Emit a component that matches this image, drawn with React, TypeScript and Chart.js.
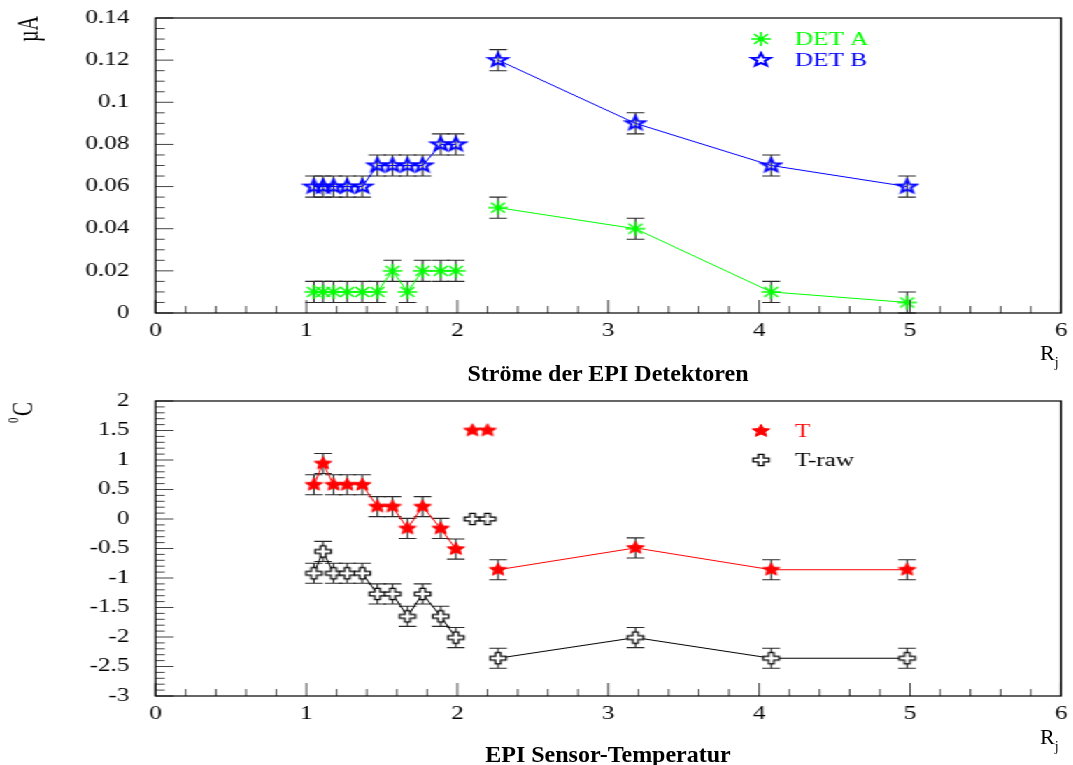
import React, { useEffect, useRef } from 'react';
import { Chart, registerables } from 'chart.js';
Chart.register(...registerables);

// ---------------- data ----------------
const rCluster = [1.05, 1.11, 1.18, 1.27, 1.37, 1.47, 1.57, 1.67, 1.77, 1.89, 1.99];
const rFar = [2.27, 3.18, 4.08, 4.98];
const rExtra = [2.1, 2.2];

const detACluster = [0.01, 0.01, 0.01, 0.01, 0.01, 0.01, 0.02, 0.01, 0.02, 0.02, 0.02];
const detAFar = [0.05, 0.04, 0.01, 0.005];
const detBCluster = [0.06, 0.06, 0.06, 0.06, 0.06, 0.07, 0.07, 0.07, 0.07, 0.08, 0.08];
const detBFar = [0.12, 0.09, 0.07, 0.06];
const detErr = 0.005;

const tCluster = [0.58, 0.94, 0.58, 0.58, 0.58, 0.21, 0.21, -0.16, 0.21, -0.16, -0.51];
const tFar = [-0.86, -0.49, -0.86, -0.86];
const tExtra = [1.5, 1.5];
const tRawCluster = [-0.92, -0.55, -0.92, -0.92, -0.92, -1.27, -1.27, -1.65, -1.27, -1.65, -2.01];
const tRawFar = [-2.36, -2.01, -2.36, -2.36];
const tRawExtra = [0, 0];
const tErr = 0.17;

const xTicks = [0, 1, 2, 3, 4, 5, 6];
const yTicksTop = [0, 0.02, 0.04, 0.06, 0.08, 0.1, 0.12, 0.14];
const yTicksBottom = [-3, -2.5, -2, -1.5, -1, -0.5, 0, 0.5, 1, 1.5, 2];

const titleTop = 'Ströme der EPI Detektoren';
const titleBottom = 'EPI Sensor-Temperatur';

// ---------------- layout ----------------
const W = 767;
const S = 1073 / W;
const FONT = '"Liberation Serif", "Times New Roman", serif';
const PLOT_L = 155.5 / S;
const PLOT_R = 1061 / S;
const GREEN = '#00ff00';
const BLUE = '#0000ff';
const RED = '#ff0000';
const BLACK = '#000000';
const CAP = 6.3;

function newCanvas(size: number) {
  const c = document.createElement('canvas');
  c.width = size;
  c.height = size;
  const ctx = c.getContext('2d')!;
  ctx.translate(size / 2, size / 2);
  return { c, ctx };
}

function makeStar(R: number, ratio: number, fill: string | null, stroke: string, lw: number) {
  const { c, ctx } = newCanvas(Math.ceil(2 * R + 4));
  ctx.beginPath();
  for (let k = 0; k < 10; k++) {
    const ang = -Math.PI / 2 + (k * Math.PI) / 5;
    const rr = k % 2 === 0 ? R : R * ratio;
    const px = Math.cos(ang) * rr;
    const py = Math.sin(ang) * rr;
    if (k === 0) ctx.moveTo(px, py);
    else ctx.lineTo(px, py);
  }
  ctx.closePath();
  if (fill) {
    ctx.fillStyle = fill;
    ctx.fill();
  }
  ctx.strokeStyle = stroke;
  ctx.lineWidth = lw;
  ctx.stroke();
  return c;
}

function makeAsterisk(r: number, color: string, lw: number) {
  const { c, ctx } = newCanvas(Math.ceil(2 * r + 4));
  const d = r * Math.SQRT1_2;
  ctx.strokeStyle = color;
  ctx.lineWidth = lw;
  ctx.beginPath();
  ctx.moveTo(-r, 0); ctx.lineTo(r, 0);
  ctx.moveTo(0, -r); ctx.lineTo(0, r);
  ctx.moveTo(-d, -d); ctx.lineTo(d, d);
  ctx.moveTo(-d, d); ctx.lineTo(d, -d);
  ctx.stroke();
  return c;
}

function makeOpenCross(b: number, a: number, stroke: string, lw: number) {
  const { c, ctx } = newCanvas(Math.ceil(2 * b + 4));
  const p = [
    [-a, -b], [a, -b], [a, -a], [b, -a], [b, a], [a, a],
    [a, b], [-a, b], [-a, a], [-b, a], [-b, -a], [-a, -a],
  ];
  ctx.beginPath();
  p.forEach((q, i) => (i === 0 ? ctx.moveTo(q[0], q[1]) : ctx.lineTo(q[0], q[1])));
  ctx.closePath();
  ctx.fillStyle = '#ffffff';
  ctx.fill();
  ctx.strokeStyle = stroke;
  ctx.lineWidth = lw;
  ctx.stroke();
  return c;
}

type LegendItem = { text: string; color: string; marker: HTMLCanvasElement; y: number };

function overlayPlugin(cfg: {
  name: string;
  yMin: number;
  yMax: number;
  yMinor: number;
  yMajorEvery: number;
  legend: LegendItem[];
  yTitle: 'uA' | 'C';
  yTitleX: number;
  yTitleY: number;
}) {
  return {
    id: 'overlay_' + cfg.name,
    beforeDatasetsDraw(chart: any) {
      const ctx: CanvasRenderingContext2D = chart.ctx;
      const xs = chart.scales.x;
      const ys = chart.scales.y;
      ctx.save();
      ctx.strokeStyle = '#2a2a2a';
      ctx.lineWidth = 1.1;
      chart.data.datasets.forEach((ds: any) => {
        const err = ds.errorBar;
        if (!err) return;
        ds.data.forEach((p: any) => {
          const px = xs.getPixelForValue(p.x);
          const y1 = ys.getPixelForValue(p.y - err);
          const y2 = ys.getPixelForValue(p.y + err);
          ctx.beginPath();
          ctx.moveTo(px, y1); ctx.lineTo(px, y2);
          ctx.moveTo(px - CAP, y1); ctx.lineTo(px + CAP, y1);
          ctx.moveTo(px - CAP, y2); ctx.lineTo(px + CAP, y2);
          ctx.stroke();
        });
      });
      ctx.restore();
    },
    afterDatasetsDraw(chart: any) {
      const ctx: CanvasRenderingContext2D = chart.ctx;
      const a = chart.chartArea;
      const xs = chart.scales.x;
      const ys = chart.scales.y;
      ctx.save();
      // ticks
      ctx.strokeStyle = '#444';
      ctx.lineWidth = 1;
      ctx.beginPath();
      for (let k = 0; k <= 30; k++) {
        const px = xs.getPixelForValue(k * 0.2);
        const len = k % 5 === 0 ? 13 : 7;
        ctx.moveTo(px, a.bottom);
        ctx.lineTo(px, a.bottom - len);
      }
      const n = Math.round((cfg.yMax - cfg.yMin) / cfg.yMinor);
      for (let k = 0; k <= n; k++) {
        const py = ys.getPixelForValue(cfg.yMin + k * cfg.yMinor);
        const len = k % cfg.yMajorEvery === 0 ? 13 : 6.6;
        ctx.moveTo(a.left, py);
        ctx.lineTo(a.left + len, py);
      }
      ctx.stroke();
      // frame
      ctx.strokeStyle = '#000';
      ctx.lineWidth = 1.2;
      ctx.strokeRect(a.left, a.top, a.right - a.left, a.bottom - a.top);
      // legend
      const mx = 761 / S;
      const tx = 795 / S;
      ctx.font = `18px ${FONT}`;
      ctx.textBaseline = 'middle';
      ctx.textAlign = 'left';
      cfg.legend.forEach((it) => {
        const m = it.marker;
        ctx.drawImage(m, mx - m.width / 2, it.y - m.height / 2);
        ctx.fillStyle = it.color;
        ctx.fillText(it.text, tx, it.y + 1);
      });
      // y axis title
      ctx.fillStyle = '#000';
      ctx.translate(cfg.yTitleX, cfg.yTitleY);
      ctx.rotate(-Math.PI / 2);
      if (cfg.yTitle === 'uA') {
        ctx.font = `20px ${FONT}`;
        ctx.textAlign = 'center';
        ctx.textBaseline = 'middle';
        ctx.fillText('µA', 0, 0);
      } else {
        ctx.textAlign = 'left';
        ctx.textBaseline = 'alphabetic';
        ctx.font = `21px ${FONT}`;
        ctx.fillText('C', -5, 6);
        ctx.font = `11px ${FONT}`;
        ctx.fillText('0', -12, -4);
      }
      ctx.restore();
    },
  };
}

function pts(xs: number[], ys: number[]) {
  return xs.map((x, i) => ({ x, y: ys[i] }));
}

function baseOptions(H: number, top: number, bottom: number, yMin: number, yMax: number, yTicks: number[]) {
  return {
    animation: false,
    responsive: false,
    maintainAspectRatio: false,
    events: [],
    layout: { padding: { left: 0, right: W - PLOT_R, top, bottom: 0 } },
    plugins: { legend: { display: false }, tooltip: { enabled: false } },
    scales: {
      x: {
        type: 'linear',
        min: 0,
        max: 6,
        afterBuildTicks: (s: any) => {
          s.ticks = xTicks.map((v) => ({ value: v }));
        },
        afterFit: (s: any) => {
          s.height = H - bottom;
          s.paddingLeft = 0;
          s.paddingRight = 0;
          s.paddingTop = 0;
          s.paddingBottom = 0;
        },
        ticks: {
          callback: (v: any) => String(v),
          font: { family: FONT, size: 18 },
          color: '#000',
          padding: 7,
          maxRotation: 0,
          autoSkip: false,
        },
        grid: { display: false, drawTicks: false },
        border: { display: false },
      },
      y: {
        type: 'linear',
        min: yMin,
        max: yMax,
        afterBuildTicks: (s: any) => {
          s.ticks = yTicks.map((v) => ({ value: v }));
        },
        afterFit: (s: any) => {
          s.width = PLOT_L;
          s.paddingLeft = 0;
          s.paddingRight = 0;
          s.paddingTop = 0;
          s.paddingBottom = 0;
        },
        ticks: {
          callback: (v: any) => String(v),
          font: { family: FONT, size: 18 },
          color: '#000',
          padding: 18.6,
          autoSkip: false,
        },
        grid: { display: false, drawTicks: false },
        border: { display: false },
      },
    },
  };
}

export default function App() {
  const topRef = useRef<HTMLCanvasElement>(null);
  const botRef = useRef<HTMLCanvasElement>(null);

  useEffect(() => {
    const greenAst = makeAsterisk(7, GREEN, 1.5);
    const blueStar = makeStar(7, 0.42, null, BLUE, 1.9);
    const redStar = makeStar(6.6, 0.45, RED, RED, 1);
    const openCross = makeOpenCross(5.7, 1.9, BLACK, 1.2);

    const lineDs = (label: string, x: number[], y: number[], color: string, style: any, err: number, show = true) => ({
      label,
      data: pts(x, y),
      showLine: show,
      borderColor: color,
      borderWidth: 1,
      pointStyle: style,
      pointRadius: 6,
      pointBorderColor: color,
      pointBackgroundColor: color,
      pointBorderWidth: 1,
      errorBar: err,
    });

    const topChart = new Chart(topRef.current!, {
      type: 'scatter',
      data: {
        datasets: [
          lineDs('DET A', rCluster, detACluster, GREEN, greenAst, detErr),
          lineDs('DET A', rFar, detAFar, GREEN, greenAst, detErr),
          lineDs('DET B', rCluster, detBCluster, BLUE, blueStar, detErr),
          lineDs('DET B', rFar, detBFar, BLUE, blueStar, detErr),
        ] as any,
      },
      options: baseOptions(385, 18, 313, 0, 0.14, yTicksTop) as any,
      plugins: [
        overlayPlugin({
          name: 'top',
          yMin: 0,
          yMax: 0.14,
          yMinor: 0.005,
          yMajorEvery: 4,
          legend: [
            { text: 'DET A', color: GREEN, marker: greenAst, y: 39 },
            { text: 'DET B', color: BLUE, marker: blueStar, y: 60 },
          ],
          yTitle: 'uA',
          yTitleX: 30 / S,
          yTitleY: 29,
        }) as any,
      ],
    });

    const botChart = new Chart(botRef.current!, {
      type: 'scatter',
      data: {
        datasets: [
          lineDs('T', rCluster, tCluster, RED, redStar, tErr),
          lineDs('T', rFar, tFar, RED, redStar, tErr),
          lineDs('T', rExtra, tExtra, RED, redStar, 0, false),
          lineDs('T-raw', rCluster, tRawCluster, BLACK, openCross, tErr),
          lineDs('T-raw', rFar, tRawFar, BLACK, openCross, tErr),
          lineDs('T-raw', rExtra, tRawExtra, BLACK, openCross, 0, false),
        ] as any,
      },
      options: baseOptions(380, 16, 311, -3, 2, yTicksBottom) as any,
      plugins: [
        overlayPlugin({
          name: 'bottom',
          yMin: -3,
          yMax: 2,
          yMinor: 0.1,
          yMajorEvery: 5,
          legend: [
            { text: 'T', color: RED, marker: redStar, y: 46 },
            { text: 'T-raw', color: BLACK, marker: openCross, y: 75 },
          ],
          yTitle: 'C',
          yTitleX: 24 / S,
          yTitleY: 26,
        }) as any,
      ],
    });

    return () => {
      topChart.destroy();
      botChart.destroy();
    };
  }, []);

  const titleStyle = (top: number): React.CSSProperties => ({
    position: 'absolute',
    left: 408,
    width: 400,
    top,
    textAlign: 'center',
    font: `bold 24px ${FONT}`,
    lineHeight: '24px',
    color: '#000',
    whiteSpace: 'nowrap',
  });
  const rjStyle = (top: number): React.CSSProperties => ({
    position: 'absolute',
    left: 1040,
    top,
    font: `22px ${FONT}`,
    lineHeight: '22px',
    color: '#000',
    whiteSpace: 'nowrap',
  });

  return (
    <div
      style={{
        position: 'fixed',
        left: 0,
        top: 0,
        width: 1073,
        height: 765,
        background: '#ffffff',
        overflow: 'hidden',
      }}
    >
      <div
        style={{
          position: 'absolute',
          left: 0,
          top: 0,
          width: W,
          height: 765,
          transform: `scaleX(${S})`,
          transformOrigin: '0 0',
        }}
      >
        <canvas ref={topRef} width={W} height={385} style={{ position: 'absolute', left: 0, top: 0, width: W, height: 385 }} />
        <canvas ref={botRef} width={W} height={380} style={{ position: 'absolute', left: 0, top: 385, width: W, height: 380 }} />
      </div>
      <div style={titleStyle(361)}>{titleTop}</div>
      <div style={titleStyle(742)}>{titleBottom}</div>
      <div style={rjStyle(342)}>
        R<span style={{ fontSize: 14, position: 'relative', top: 7 }}>j</span>
      </div>
      <div style={rjStyle(726)}>
        R<span style={{ fontSize: 14, position: 'relative', top: 7 }}>j</span>
      </div>
    </div>
  );
}
